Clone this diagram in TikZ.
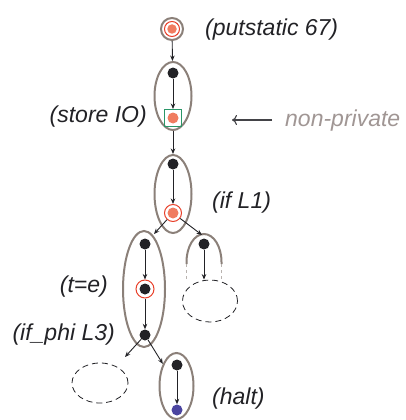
\documentclass[tikz,border=0pt]{standalone}
\usepackage{fontspec}
\setmainfont{Liberation Sans}
\usetikzlibrary{arrows.meta,shapes.geometric}
\definecolor{shell}{RGB}{139,128,121}
\definecolor{ink}{RGB}{34,34,38}
\definecolor{salmon}{RGB}{240,124,96}
\definecolor{ringred}{RGB}{232,64,42}
\definecolor{guard}{RGB}{42,150,104}
\definecolor{haltblue}{RGB}{75,69,160}
\definecolor{note}{RGB}{160,150,148}
\begin{document}
\begin{tikzpicture}[x=1pt,y=-1pt,
  group/.style={ellipse, draw=shell, line width=2pt, inner sep=0pt},
  dot/.style={circle, fill=ink, inner sep=0pt, minimum size=11pt},
  hot/.style={dot, fill=salmon},
  ring/.style={circle, draw=ringred, line width=1pt, inner sep=0pt, minimum size=17pt},
  box/.style={rectangle, draw=guard, line width=1pt, inner sep=0pt, minimum size=17pt},
  ghost/.style={ellipse, draw=ink, line width=0.8pt, dash pattern=on 6pt off 4pt, inner sep=0pt},
  flow/.style={draw=ink, line width=0.9pt, -{Stealth[length=5.5pt,width=4.5pt]}},
  lbl/.style={font=\fontsize{23}{27}\selectfont\itshape, text=ink, inner sep=0pt},
]
\useasboundingbox (0,0) rectangle (406,420);

% putstatic
\node[circle, draw=shell, line width=2pt, minimum size=22pt, inner sep=0pt] (ps) at (172,29) {};
\node[ring, minimum size=15pt] (psr) at (ps) {};
\node[hot, minimum size=9.5pt] (psd) at (ps) {};
\node[lbl, anchor=west] (lps) at (205,30) {(putstatic 67)};

% store IO block
\node[group, minimum width=37pt, minimum height=68pt] (g2) at (173,96) {};
\node[dot] (g2a) at (173,73) {};
\node[box] (g2s) at (173,118) {};
\node[hot] (g2b) at (173,118) {};
\node[lbl, anchor=east] (lst) at (147,117) {(store IO)};
\draw[flow] (g2a) -- (g2s);
\draw[flow] (ps) -- (g2);

% non-private marker
\node[lbl, anchor=west, text=note] (np) at (285,121) {non-private};
\coordinate (npend) at (232,120);
\draw[draw=ink!85, line width=1.1pt, -{To[length=5pt,width=10pt]}] ([xshift=-13pt]np.west |- npend) -- (npend);

% if L1 block
\node[group, minimum width=37pt, minimum height=78pt] (g3) at (173,194) {};
\node[dot] (g3a) at (173,164) {};
\node[ring] (g3r) at (173,213) {};
\node[hot] (g3b) at (173,213) {};
\node[lbl, anchor=west] (lif) at (212,203) {(if L1)};
\draw[flow] (g3a) -- (g3r);
\draw[flow] (g2) -- (g3);

% then-branch block
\node[group, minimum width=42pt, minimum height=116pt] (g4) at (144,289) {};
\node[dot] (g4a) at (145,244) {};
\node[ring, minimum size=18pt] (g4r) at (145,289) {};
\node[dot] (g4b) at (145,289) {};
\node[dot] (g4c) at (145,335) {};
\node[lbl, anchor=east] (lte) at (108,287) {(t=e)};
\node[lbl, anchor=east] (lphi) at (115,335) {(if\_phi L3)};
\draw[flow] (g4a) -- (g4r);
\draw[flow] (g4r) -- (g4c);

% else-branch block (open at the bottom)
\draw[shell, line width=2pt] (186.5,264) -- (186.5,262)
  arc[start angle=180, end angle=0, x radius=17.5pt, y radius=28pt] -- (221.5,264);
\draw[shell!60, line width=1.5pt, dash pattern=on 3pt off 3pt] (186.5,264) -- (186.5,279);
\draw[shell!60, line width=1.5pt, dash pattern=on 3pt off 3pt] (221.5,264) -- (221.5,279);
\coordinate (g5) at (202,235);
\node[dot] (g5a) at (204,244) {};
\node[ghost, minimum width=55pt, minimum height=42pt] (g6) at (210,301) {};
\draw[flow] (g5a) -- (g5a |- g6.north);

% branch arrows out of if L1
\draw[flow] (g3r) -- (154,234);
\draw[flow] (g3r) -- (g5);

% join block successors
\node[ghost, minimum width=56pt, minimum height=40pt] (g7) at (100,383) {};
\node[group, minimum width=34pt, minimum height=66pt] (g8) at (176.5,386) {};
\node[dot] (g8a) at (177,365) {};
\node[dot, fill=haltblue] (g8b) at (177,410) {};
\node[lbl, anchor=west] (lhalt) at (212,399) {(halt)};
\draw[flow] (g8a) -- (g8b);
\draw[flow] (g4c) -- (125,357);
\draw[flow] (g4c) -- (g8);
\end{tikzpicture}
\end{document}
